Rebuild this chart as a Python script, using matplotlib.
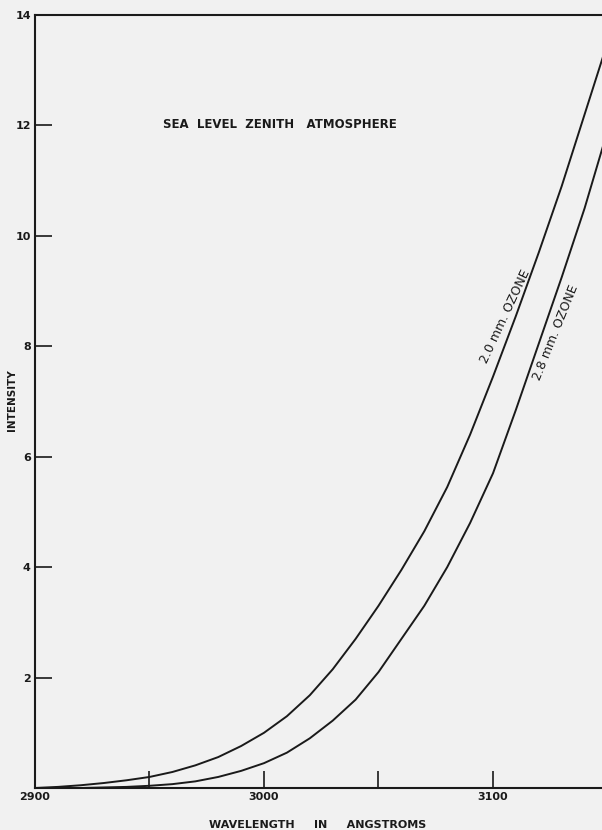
import matplotlib.pyplot as plt
import numpy as np

wavelength = [2900, 2910, 2920, 2930, 2940, 2950, 2960, 2970, 2980, 2990, 3000,
              3010, 3020, 3030, 3040, 3050, 3060, 3070, 3080, 3090, 3100,
              3110, 3120, 3130, 3140, 3150]
ozone_20 = [0.00, 0.02, 0.05, 0.09, 0.14, 0.20, 0.29, 0.41, 0.56, 0.76, 1.00,
            1.30, 1.68, 2.15, 2.70, 3.30, 3.95, 4.65, 5.45, 6.40, 7.45,
            8.55, 9.70, 10.90, 12.20, 13.50]
ozone_28 = [0.00, 0.00, 0.00, 0.01, 0.02, 0.04, 0.07, 0.12, 0.20, 0.31, 0.45,
            0.64, 0.90, 1.22, 1.60, 2.10, 2.70, 3.30, 4.00, 4.80, 5.70,
            6.85, 8.05, 9.25, 10.50, 11.90]

y_ticks = [2, 4, 6, 8, 10, 12, 14]
x_major = [2900, 3000, 3100]
x_minor = [2950, 3050]

ink = '#1a1a1a'
paper = '#f1f1f1'

fig = plt.figure(figsize=(6.02, 8.30), dpi=100, facecolor=paper)
ax = fig.add_axes([35 / 602, 42 / 830, 567 / 602, 773 / 830], facecolor=paper)

ax.plot(wavelength, ozone_20, color=ink, linewidth=1.4)
ax.plot(wavelength, ozone_28, color=ink, linewidth=1.4)

ax.set_xlim(2900, 2900 + 567 / 2.29)
ax.set_ylim(0, 14)

ax.spines['right'].set_visible(False)
for s in ['left', 'top', 'bottom']:
    ax.spines[s].set_color(ink)
    ax.spines[s].set_linewidth(1.5)

ax.set_yticks(y_ticks)
ax.set_yticklabels([str(v) for v in y_ticks], fontsize=8, fontweight='bold', color=ink)
ax.set_xticks(x_major)
ax.set_xticklabels([str(v) for v in x_major], fontsize=8, fontweight='bold', color=ink)
ax.set_xticks(x_minor, minor=True)
ax.tick_params(axis='both', which='both', direction='in', length=12, width=1.2,
               color=ink, pad=3)
# no tick mark at the corner or the top
ax.yaxis.get_major_ticks()[-1].tick1line.set_visible(False)
ax.xaxis.get_major_ticks()[0].tick1line.set_visible(False)

fig.text(280 / 602, 1 - 125 / 830, 'SEA  LEVEL  ZENITH   ATMOSPHERE',
         ha='center', va='center', fontsize=8.5, fontweight='bold', color=ink)

fig.text(505 / 602, 1 - 316 / 830, '2.0 mm. OZONE',
         ha='center', va='center', rotation=65, fontsize=9, color=ink)
fig.text(556 / 602, 1 - 333 / 830, '2.8 mm. OZONE',
         ha='center', va='center', rotation=68, fontsize=9, color=ink)

fig.text(12 / 602, 1 - 400 / 830, 'INTENSITY', rotation=90, ha='center', va='center',
         fontsize=7.5, fontweight='bold', color=ink)
fig.text(318 / 602, 1 - 825 / 830, 'WAVELENGTH     IN     ANGSTROMS', ha='center', va='center',
         fontsize=8, fontweight='bold', color=ink)

fig.savefig('out.png', dpi=100, facecolor=paper)
